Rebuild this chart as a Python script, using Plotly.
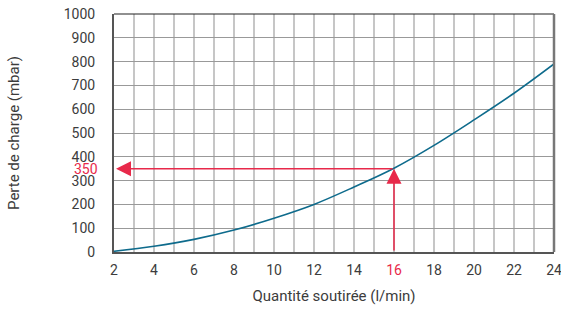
import plotly.graph_objects as go

flow = [2, 4, 6, 8, 10, 12, 14, 16, 18, 20, 22, 24]
pressure = [3, 24, 53, 92, 142, 200, 273, 352, 448, 555, 667, 790]
x_ticks = [2, 4, 6, 8, 10, 12, 14, 16, 18, 20, 22, 24]
y_ticks = [0, 100, 200, 300, 400, 500, 600, 700, 800, 900, 1000]
mark_flow = 16
mark_pressure = 350

RED = "#e8294a"
TEXT = "#3c3c3c"

fig = go.Figure()
fig.add_trace(go.Scatter(x=flow, y=pressure, mode="lines", line=dict(color="#0e6b8c", width=1.6, shape="spline"),
                         hoverinfo="skip", showlegend=False))

x_text = [f"<span style='color:{RED}'>{v}</span>" if v == mark_flow else str(v) for v in x_ticks]

fig.update_layout(
    width=561, height=312,
    margin=dict(l=114, r=7, t=14, b=60),
    paper_bgcolor="white", plot_bgcolor="white",
    font=dict(family="Roboto", size=14, color=TEXT),
    xaxis=dict(range=[2, 24], tickvals=x_ticks, ticktext=x_text, automargin=False,
               ticklabeloverflow="allow",
               showgrid=True, gridcolor="#c6c6c6", gridwidth=1.5,
               minor=dict(dtick=1, tick0=0, showgrid=True, gridcolor="#c6c6c6", gridwidth=1.5),
               showline=True, linecolor="#555", linewidth=2, mirror=False,
               zeroline=False, ticks="", ticklabelstandoff=4,
               title=dict(text="Quantité soutirée (l/min)", font=dict(size=15, color=TEXT), standoff=14)),
    yaxis=dict(range=[0, 1000], tickvals=y_ticks, automargin=False, showgrid=True, gridcolor="#999999", gridwidth=1.2,
               showline=True, linecolor="#555", linewidth=2, zeroline=False, ticks="",
               ticklabelstandoff=14,
               title=dict(text="Perte de charge (mbar)", font=dict(size=15, color=TEXT), standoff=40)),
    shapes=[
        dict(type="line", xref="paper", yref="paper", x0=0, x1=1, y0=1, y1=1, line=dict(color="#222", width=1.2)),
        dict(type="line", xref="paper", yref="paper", x0=1, x1=1, y0=0, y1=1, line=dict(color="#777", width=2.5)),
    ],
    annotations=[
        dict(x=2.1, y=mark_pressure, ax=mark_flow, ay=mark_pressure, xref="x", yref="y", axref="x", ayref="y",
             text="", showarrow=True, arrowhead=2, arrowsize=2, arrowwidth=1.5, arrowcolor=RED),
        dict(x=mark_flow, y=mark_pressure, ax=mark_flow, ay=0, xref="x", yref="y", axref="x", ayref="y",
             text="", showarrow=True, arrowhead=2, arrowsize=2, arrowwidth=1.5, arrowcolor=RED),
        dict(x=0, y=mark_pressure, xref="paper", yref="y", text=str(mark_pressure), showarrow=False,
             xanchor="right", xshift=-14, font=dict(size=14, color=RED)),
    ],
)

fig.write_html("out.html", config={"displayModeBar": False},
               post_script="document.body.style.margin='0';document.body.style.padding='0';")
